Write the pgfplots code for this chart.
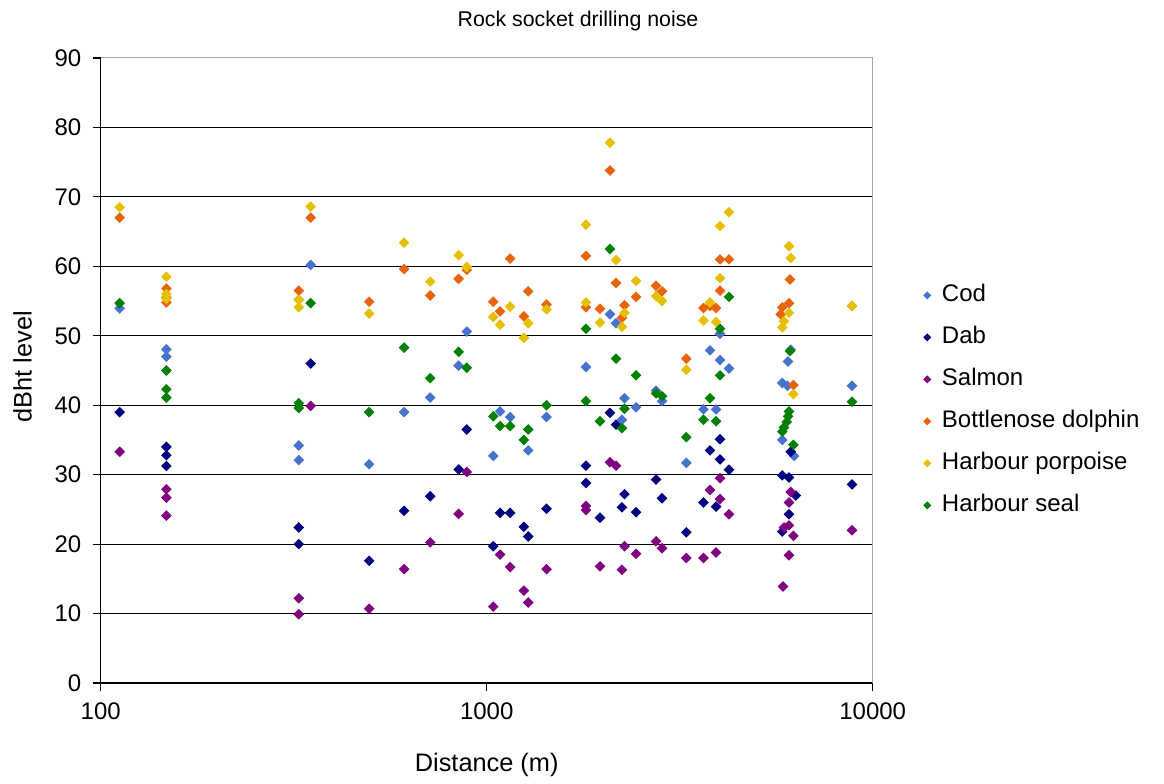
\documentclass[border=0pt]{standalone}
\usepackage{fontspec}
\setmainfont{Liberation Sans}
\usepackage{pgfplots}
\pgfplotsset{compat=1.18}
\definecolor{codc}{RGB}{70,114,206}
\definecolor{dabc}{RGB}{0,0,128}
\definecolor{salc}{RGB}{128,0,128}
\definecolor{bdc}{RGB}{232,100,12}
\definecolor{hpc}{RGB}{230,192,0}
\definecolor{hsc}{RGB}{0,128,0}
\pgfdeclareplotmark{xdiamond}{%
  \pgfpathmoveto{\pgfqpoint{0pt}{\pgfplotmarksize}}%
  \pgfpathlineto{\pgfqpoint{\pgfplotmarksize}{0pt}}%
  \pgfpathlineto{\pgfqpoint{0pt}{-\pgfplotmarksize}}%
  \pgfpathlineto{\pgfqpoint{-\pgfplotmarksize}{0pt}}%
  \pgfpathclose\pgfusepathqfill}
\begin{document}
\begin{tikzpicture}
\begin{axis}[
  scale only axis, width=579pt, height=468.75pt,
  xmode=log, xmin=100, xmax=10000, ymin=0, ymax=90,
  xtick={100,1000,10000}, xticklabels={100,1000,10000},
  ytick={0,10,...,90},
  xminorticks=false, yminorticks=false,
  axis x line*=bottom, axis y line*=left,
  axis line style={black, line width=0.9pt, -},
  every outer x axis line/.append style={-},
  every outer y axis line/.append style={-},
  tick align=outside, major tick length=6pt,
  tick style={black, line width=0.9pt},
  ticklabel style={font=\fontsize{18}{21}\selectfont},
  /pgf/number format/assume math mode=true,
  xticklabel style={yshift=-5pt},
  yticklabel style={xshift=-5pt},
  xlabel={Distance (m)},
  xlabel style={at={(rel axis cs:0.5,-0.1312)}, anchor=center, font=\fontsize{19}{22}\selectfont},
  ylabel={dBht level},
  ylabel style={at={(rel axis cs:-0.1013,0.506)}, anchor=center, font=\fontsize{19}{22}\selectfont},
  clip=false,
  only marks, mark=xdiamond, mark size=4pt,
  legend cell align=left,
  legend image code/.code={\draw[#1, mark size=3pt] plot coordinates {(0pt,0pt)};},
  legend style={draw=none, fill=none, at={(rel axis cs:1.06,0.643)}, anchor=north west,
    font=\fontsize{18}{21}\selectfont, row sep=14.5pt,
    nodes={inner sep=0pt, text height=13pt, text depth=4pt},
    /tikz/every odd column/.append style={column sep=8pt}},
]
\path (rel axis cs:-0.1304,-0.16) rectangle (rel axis cs:1.3773,1.0928);
\pgfplotsinvokeforeach{10,20,30,40,50,60,70,80}{\draw[black,line width=0.9pt] (axis cs:100,#1) -- (axis cs:10000,#1);}
\draw[gray!70, line width=0.75pt] (rel axis cs:0,1) -- (rel axis cs:1,1) -- (rel axis cs:1,0);
\node[font=\fontsize{16}{19}\selectfont, anchor=base, inner sep=0pt] at (rel axis cs:0.6183,1.0501) {Rock socket drilling noise};

% Cod
\addplot[codc, mark=xdiamond] coordinates {
(112,53.95) (148,48.05) (148,47.0) (148,45.0) (326,34.2) (326,32.1) (350,60.2)
(496,31.5) (611,39.0) (714,41.1) (846,45.7) (888,50.6) (1040,32.7) (1083,39.1)
(1150,38.3) (1281,33.5) (1429,38.3) (1808,45.5) (2086,53.1) (2163,51.8) (2241,37.9)
(2275,41.0) (2437,39.7) (2746,42.1) (2846,40.6) (3289,31.7) (3645,39.4) (3789,47.9)
(3928,39.4) (4022,50.3) (4022,46.5) (4243,45.3)
(6132,48.0) (6034,46.3) (5831,43.2) (6012,42.8) (5831,35.0) (6254,32.7) (8840,42.8)
};
\addlegendentry{Cod}
% Dab
\addplot[dabc, mark=xdiamond] coordinates {
(112,39.0) (148,34.0) (148,32.8) (148,31.25) (326,22.4) (326,20.0) (350,46.0)
(496,17.6) (611,24.8) (714,26.9) (846,30.75) (888,36.5) (1040,19.7) (1083,24.5)
(1150,24.5) (1248,22.5) (1281,21.1) (1429,25.1) (1808,31.3) (1808,28.8) (1966,23.8)
(2086,38.9) (2163,37.2) (2241,25.3) (2275,27.2) (2437,24.6) (2746,29.3) (2846,26.6)
(3289,21.7) (3645,26.0) (3789,33.5) (3928,25.4) (4022,35.1) (4022,32.2) (4243,30.7)
(6132,33.3) (5831,29.9) (6070,29.6) (6322,27.0) (6070,24.3) (5831,21.8) (8840,28.6)
};
\addlegendentry{Dab}
% Salmon
\addplot[salc, mark=xdiamond] coordinates {
(112,33.3) (148,27.9) (148,26.7) (148,24.1) (326,12.2) (326,9.9) (350,39.9)
(496,10.7) (611,16.4) (714,20.25) (846,24.35) (888,30.4) (1040,11.0) (1083,18.5)
(1150,16.7) (1248,13.3) (1281,11.6) (1429,16.4) (1808,25.5) (1808,24.9) (1966,16.8)
(2086,31.8) (2163,31.3) (2241,16.3) (2275,19.7) (2437,18.6) (2746,20.4) (2846,19.4)
(3289,18.0) (3645,18.0) (3789,27.8) (3928,18.8) (4022,29.5) (4022,26.5) (4243,24.3)
(6132,27.5) (6070,26.0) (6070,22.7) (5891,22.4) (6232,21.2) (6070,18.4) (5855,13.9) (8840,22.0)
};
\addlegendentry{Salmon}
% Bottlenose dolphin
\addplot[bdc, mark=xdiamond] coordinates {
(112,67.0) (148,56.8) (148,55.5) (148,54.8) (326,56.5) (326,55.2) (350,67.0)
(496,54.9) (611,59.6) (714,55.8) (846,58.2) (888,59.5) (1040,54.9) (1083,53.5)
(1150,61.1) (1248,52.8) (1281,56.4) (1429,54.5) (1808,61.5) (1808,54.1) (1966,53.9)
(2086,73.8) (2163,57.6) (2241,52.6) (2275,54.4) (2437,55.6) (2746,57.2) (2846,56.4)
(3289,46.7) (3645,54.0) (3789,54.3) (3928,54.0) (4022,61.0) (4022,56.5) (4243,61.0)
(6107,58.1) (6070,54.7) (5831,54.1) (5776,53.1) (6232,42.9) (8840,54.3)
};
\addlegendentry{Bottlenose dolphin}
% Harbour porpoise
\addplot[hpc, mark=xdiamond] coordinates {
(112,68.5) (148,58.5) (148,56.0) (148,55.3) (326,55.2) (326,54.1) (350,68.6)
(496,53.2) (611,63.4) (714,57.8) (846,61.6) (888,59.9) (1040,52.7) (1083,51.6)
(1150,54.2) (1248,49.7) (1281,51.8) (1429,53.8) (1808,66.0) (1808,54.8) (1966,51.9)
(2086,77.8) (2163,60.9) (2241,51.3) (2275,53.3) (2437,57.9) (2746,55.7) (2846,55.0)
(3289,45.1) (3645,52.2) (3789,54.8) (3928,52.0) (4022,65.8) (4022,58.3) (4243,67.8)
(6070,62.9) (6132,61.2) (6070,53.3) (5891,52.1) (5831,51.2) (6232,41.6) (8840,54.3)
};
\addlegendentry{Harbour porpoise}
% Harbour seal
\addplot[hsc, mark=xdiamond] coordinates {
(112,54.7) (148,45.0) (148,42.3) (148,41.1) (326,40.3) (326,39.6) (350,54.7)
(496,39.0) (611,48.3) (714,43.9) (846,47.7) (888,45.4) (1040,38.4) (1083,37.0)
(1150,37.0) (1248,35.0) (1281,36.5) (1429,40.0) (1808,51.0) (1808,40.6) (1966,37.7)
(2086,62.5) (2163,46.7) (2241,36.7) (2275,39.5) (2437,44.3) (2746,41.7) (2846,41.3)
(3289,35.4) (3645,37.9) (3789,41.0) (3928,37.7) (4022,51.0) (4022,44.3) (4243,55.6)
(6107,47.8) (6070,39.1) (6034,38.4) (5987,37.6) (5891,36.8) (5831,36.2) (6232,34.3) (8840,40.5)
};
\addlegendentry{Harbour seal}
\end{axis}
\end{tikzpicture}
\end{document}
